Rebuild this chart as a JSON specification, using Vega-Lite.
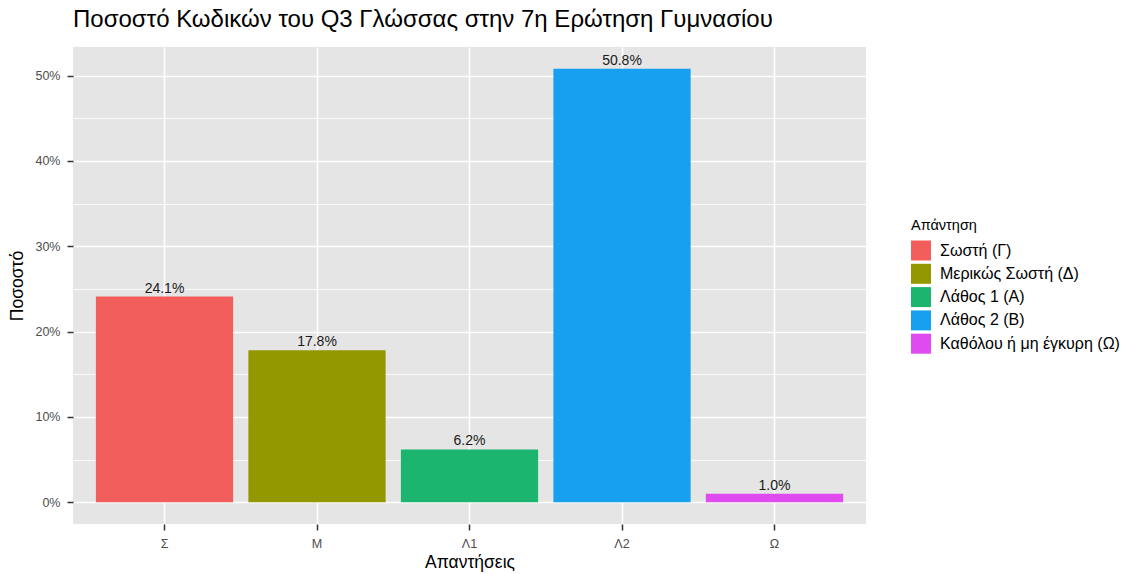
{
  "$schema": "https://vega.github.io/schema/vega-lite/v6.json",
  "width": 793,
  "height": 477,
  "autosize": {"type": "none"},
  "padding": {"left": 73, "top": 47, "right": 263, "bottom": 50},
  "background": "white",
  "title": {"text": "Ποσοστό Κωδικών του Q3 Γλώσσας στην 7η Ερώτηση Γυμνασίου", "anchor": "start", "frame": "group", "fontSize": 24, "font": "Liberation Sans", "fontWeight": "normal", "color": "black", "offset": 15},
  "config": {"view": {"fill": "#E5E5E5", "stroke": null}, "font": "Liberation Sans"},
  "data": {"values": [
    {"code": "Σ", "answer": "Σωστή (Γ)", "pct": 0.241},
    {"code": "Μ", "answer": "Μερικώς Σωστή (Δ)", "pct": 0.178},
    {"code": "Λ1", "answer": "Λάθος 1 (Α)", "pct": 0.062},
    {"code": "Λ2", "answer": "Λάθος 2 (Β)", "pct": 0.508},
    {"code": "Ω", "answer": "Καθόλου ή μη έγκυρη (Ω)", "pct": 0.010}
  ]},
  "encoding": {
    "x": {"field": "code", "type": "nominal", "sort": ["Σ", "Μ", "Λ1", "Λ2", "Ω"],
      "scale": {"paddingInner": 0.1, "paddingOuter": 0.15},
      "axis": {"title": "Απαντήσεις", "titleFontSize": 17.5, "titleFontWeight": "normal", "titleColor": "black", "titlePadding": 4,
        "labelAngle": 0, "labelFontSize": 12.5, "labelColor": "#4D4D4D", "labelPadding": 7,
        "domain": false, "tickColor": "#333333", "tickSize": 6, "tickWidth": 1.5,
        "grid": true, "gridColor": "white", "gridWidth": 1.6, "bandPosition": 0.5}},
    "y": {"field": "pct", "type": "quantitative",
      "scale": {"domain": [-0.0254, 0.5334], "nice": false, "zero": false},
      "axis": {"title": "Ποσοστό", "titleFontSize": 17.5, "titleFontWeight": "normal", "titleColor": "black", "titlePadding": 8,
        "values": [0, 0.05, 0.1, 0.15, 0.2, 0.25, 0.3, 0.35, 0.4, 0.45, 0.5],
        "format": ".0%",
        "labelExpr": "round(datum.value*100) % 10 === 0 ? datum.label : ''",
        "labelFontSize": 12.5, "labelColor": "#4D4D4D", "labelPadding": 7,
        "domain": false, "tickColor": "#333333", "tickSize": 6, "tickWidth": 1.5,
        "tickOpacity": {"condition": {"test": "round(datum.value*100) % 10 === 0", "value": 1}, "value": 0},
        "grid": true, "gridColor": "white",
        "gridWidth": {"condition": {"test": "round(datum.value*100) % 10 === 0", "value": 1.6}, "value": 0.8}}}
  },
  "layer": [
    {"mark": {"type": "bar"},
     "encoding": {
       "y2": {"datum": 0},
       "color": {"field": "answer", "type": "nominal",
         "scale": {"domain": ["Σωστή (Γ)", "Μερικώς Σωστή (Δ)", "Λάθος 1 (Α)", "Λάθος 2 (Β)", "Καθόλου ή μη έγκυρη (Ω)"],
                   "range": ["#F25E5B", "#939700", "#1BB56F", "#17A0F0", "#DF4BF0"]},
         "legend": {"title": "Απάντηση", "orient": "none", "legendX": 838, "legendY": 172,
           "titleFontSize": 14.5, "titleFontWeight": "normal", "titleColor": "black", "titlePadding": 7,
           "symbolType": "square", "symbolSize": 400, "symbolStrokeWidth": 0, "symbolOpacity": 1,
           "labelFontSize": 16, "labelColor": "black", "labelOffset": 9, "labelLimit": 400, "rowPadding": 3.3}}}},
    {"mark": {"type": "text", "baseline": "alphabetic", "dy": -4, "fontSize": 14, "color": "#1A1A1A"},
     "encoding": {"text": {"field": "pct", "type": "quantitative", "format": ".1%"}}}
  ]
}
